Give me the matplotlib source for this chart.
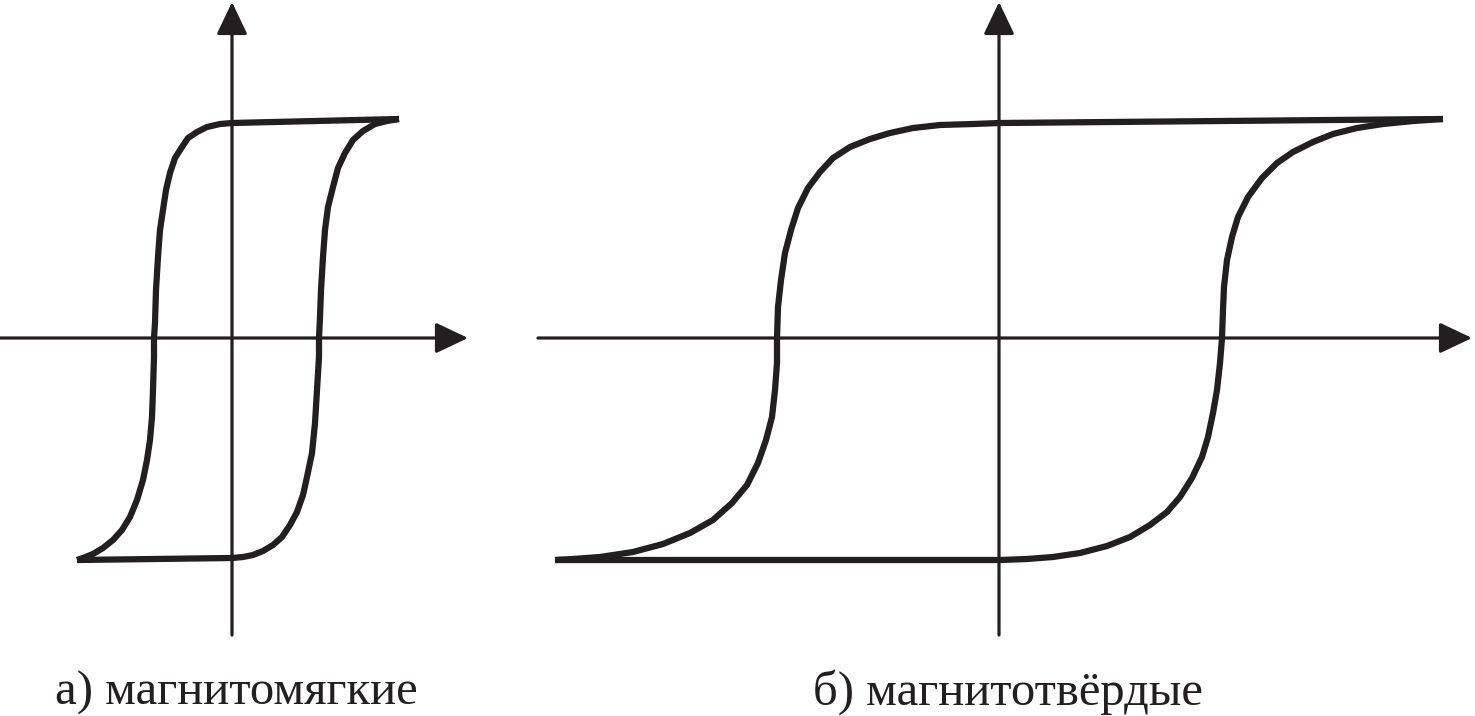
import matplotlib.pyplot as plt
from matplotlib.patches import FancyArrowPatch

plt.rcParams["font.family"] = ["Liberation Serif", "DejaVu Serif"]

# а) магнитомягкие: H, B (pixel units from the origin)
soft_down_H = [167, 0, -12, -25, -35, -44, -50, -57, -62, -66, -69, -72, -74, -76, -77, -78, -78,
               -79, -80, -82, -85, -89, -95, -102, -110, -119, -129, -139, -149, -155]
soft_down_B = [219, 215, 214, 211, 206, 200, 191, 180, 165, 148, 128, 108, 81, 48, 15, 0, -19,
               -52, -79, -102, -122, -142, -162, -179, -192, -202, -210, -216, -220, -222]
soft_up_H = [-155, 0, 11, 21, 31, 41, 50, 58, 65, 71, 75, 80, 83, 85, 87, 87, 88, 89, 91, 93,
             96, 101, 106, 113, 121, 131, 143, 155, 167]
soft_up_B = [-222, -220, -219, -217, -213, -207, -199, -187, -174, -157, -139, -115, -85, -52,
             -19, 0, 21, 48, 81, 108, 131, 151, 170, 185, 198, 207, 214, 217, 219]

# б) магнитотвёрдые
hard_down_H = [444, 1, -26, -59, -86, -109, -129, -149, -166, -179, -191, -201, -208, -214,
               -218, -221, -222, -222, -224, -227, -233, -241, -252, -267, -286, -309, -336,
               -366, -399, -426, -444]
hard_down_B = [219, 215, 214, 213, 210, 205, 199, 191, 180, 166, 150, 130, 108, 85, 58, 31, 0,
               -25, -52, -79, -102, -125, -147, -165, -182, -195, -206, -214, -219, -221, -222]
hard_up_H = [-444, 1, 28, 54, 81, 108, 131, 151, 168, 181, 193, 203, 209, 214, 218, 221, 223,
             224, 225, 228, 233, 239, 249, 263, 278, 294, 314, 334, 358, 384, 414, 444]
hard_up_B = [-222, -222, -221, -219, -215, -208, -199, -187, -174, -159, -140, -119, -99, -75,
             -52, -25, 0, 28, 51, 78, 101, 121, 141, 160, 175, 186, 196, 204, 210, 214, 217, 219]

captions = ["а) магнитомягкие", "б) магнитотвёрдые"]

ink = "#231f20"
W, H = 1475, 716

fig = plt.figure(figsize=(W / 100, H / 100), dpi=100)
fig.patch.set_facecolor("white")

ax_a = fig.add_axes([0, 0, 500 / W, 1])
ax_a.set_xlim(-232, 268)
ax_a.set_ylim(-378, 338)

ax_b = fig.add_axes([500 / W, 0, 975 / W, 1])
ax_b.set_xlim(-499, 476)
ax_b.set_ylim(-378, 338)


def arrow(ax, start, end):
    ax.add_patch(FancyArrowPatch(start, end, arrowstyle="-|>,head_length=2.0,head_width=0.95",
                                 mutation_scale=10, color=ink, lw=2.3,
                                 shrinkA=0, shrinkB=0))


for ax in (ax_a, ax_b):
    ax.axis("off")

arrow(ax_a, (-232, 0), (236, 0))
arrow(ax_a, (0, -297), (0, 336))
arrow(ax_b, (-461, 0), (473, 0))
arrow(ax_b, (0, -297), (0, 336))

lw = 4.5
style = dict(color=ink, lw=lw, solid_capstyle="butt", solid_joinstyle="round")
ax_a.plot(soft_down_H, soft_down_B, **style)
ax_a.plot(soft_up_H, soft_up_B, **style)
ax_b.plot(hard_down_H, hard_down_B, **style)
ax_b.plot(hard_up_H, hard_up_B, **style)

fig.text(55 / W, 11 / H, captions[0], fontsize=35, color=ink, va="baseline")
fig.text(813 / W, 11 / H, captions[1], fontsize=35, color=ink, va="baseline")

fig.savefig("out.png", dpi=100)
